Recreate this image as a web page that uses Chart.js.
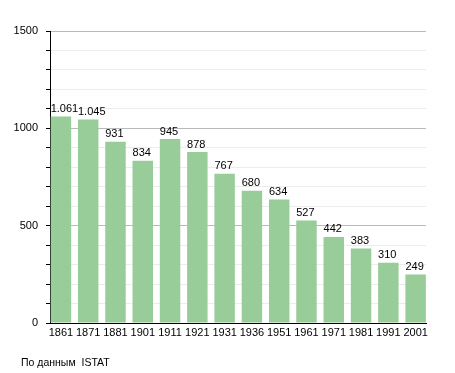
<!DOCTYPE html>
<html>
<head>
<meta charset="utf-8">
<script src="https://cdn.jsdelivr.net/npm/chart.js@4"></script>
<style>
  html, body { margin: 0; padding: 0; background: #fff; }
  #wrap { position: relative; width: 455px; height: 373px; }
  #source {
    position: absolute; left: 21px; top: 356px;
    font: 10.5px "Liberation Sans", Arial, sans-serif; color: #000;
    white-space: pre;
  }
</style>
</head>
<body>
<div id="wrap">
  <canvas id="popChart" width="455" height="373"></canvas>
  <div id="source">По данным  ISTAT</div>
</div>
<script>
// censimenti ISTAT
const years = ['1861', '1871', '1881', '1901', '1911', '1921', '1931', '1936', '1951', '1961', '1971', '1981', '1991', '2001'];
const population = [1061, 1045, 931, 834, 945, 878, 767, 680, 634, 527, 442, 383, 310, 249];
const yTickLabels = [0, 500, 1000, 1500];

const FONT = 'Liberation Sans, Arial, sans-serif';
const BAR_COLOR = 'rgb(152, 204, 152)';

function fmt(v) {
  return String(v).replace(/\B(?=(\d{3})+(?!\d))/g, '.');
}

// valori sopra le barre, allineati al bordo sinistro della barra
const barValues = {
  id: 'barValues',
  afterDatasetsDraw(chart) {
    const ctx = chart.ctx;
    const meta = chart.getDatasetMeta(0);
    ctx.save();
    ctx.font = '11px ' + FONT;
    ctx.fillStyle = '#000';
    ctx.textAlign = 'left';
    ctx.textBaseline = 'alphabetic';
    meta.data.forEach((bar, i) => {
      ctx.fillText(fmt(population[i]), bar.x - bar.width / 2, bar.y - 4.5);
    });
    ctx.restore();
  }
};

const ctx = document.getElementById('popChart').getContext('2d');
new Chart(ctx, {
  type: 'bar',
  data: {
    datasets: [{
      data: population.map((v, i) => ({ x: i, y: v })),
      backgroundColor: BAR_COLOR,
      borderWidth: 0,
      categoryPercentage: 1,
      barPercentage: 0.75
    }]
  },
  options: {
    responsive: false,
    animation: false,
    layout: { padding: { left: 13, right: 29, top: 31, bottom: 0 } },
    plugins: {
      legend: { display: false },
      tooltip: { enabled: false }
    },
    scales: {
      x: {
        type: 'linear',
        offset: false,
        min: -0.4,
        max: 13.38,
        grid: { display: false, offset: false, drawTicks: false },
        border: { display: true, color: '#000', width: 1 },
        afterBuildTicks: s => { s.ticks = years.map((_, i) => ({ value: i })); },
        afterFit: s => { s.height = 50; },
        ticks: {
          autoSkip: false,
          maxRotation: 0,
          padding: 3,
          color: '#000',
          font: { family: FONT, size: 11 },
          callback: v => years[v]
        }
      },
      y: {
        min: 0,
        max: 1500,
        afterBuildTicks: s => {
          const t = [];
          for (let v = 0; v <= 1500; v += 100) t.push({ value: v });
          s.ticks = t;
        },
        afterFit: s => { s.width = 37; },
        grid: {
          color: c => (c.tick && c.tick.value % 500 === 0) ? '#b9b9b9' : '#ececec',
          tickColor: '#000',
          tickLength: 4
        },
        border: { display: true, color: '#000', width: 1 },
        ticks: {
          padding: 8,
          color: '#000',
          font: { family: FONT, size: 11 },
          callback: v => yTickLabels.includes(v) ? String(v) : ''
        }
      }
    }
  },
  plugins: [barValues]
});
</script>
</body>
</html>
